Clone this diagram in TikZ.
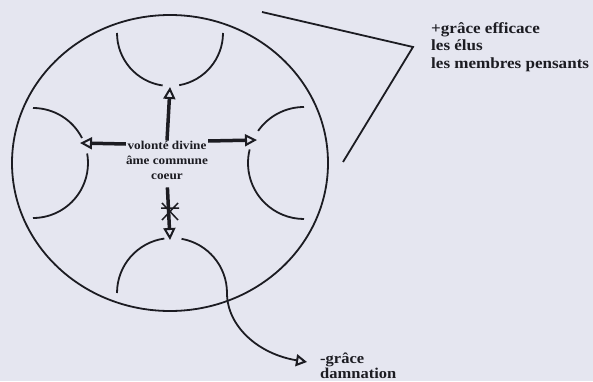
\documentclass[tikz,border=0pt]{standalone}
\usepackage{fontspec}
\setmainfont{Liberation Serif}
\newfontfamily\widefont[FakeStretch=1.1]{Liberation Serif}
\usetikzlibrary{arrows.meta,positioning}
\definecolor{paper}{RGB}{229,230,240}
\definecolor{ink}{RGB}{28,28,34}

\begin{document}
\begin{tikzpicture}[x=1pt, y=1pt,
    every node/.style={text=ink, inner sep=0pt},
    label small/.style={font=\widefont\bfseries\fontsize{12}{15}\selectfont},
    label big/.style={font=\widefont\bfseries\fontsize{15.5}{17.5}\selectfont},
    rim/.style={draw=ink, line width=1.8pt},
    cup/.style={draw=ink, line width=1.8pt},
    push/.style={draw=ink, line width=3.5pt,
        -{Triangle[open, length=12pt, width=12pt, line width=2pt]}}]
  % Paper
  \fill[paper] (0,0) rectangle (593,381);
  \useasboundingbox (0,0) rectangle (593,381);
  \clip (0,0) rectangle (593,381);

  % Big circle
  \draw[rim] (170,218) ellipse [x radius=158, y radius=148];

  % Centre
  \node[label small, align=center] (core) at (167,221) {volonté divine\\âme commune\\coeur};

  % Members (inner half circles, open where the arrows come in)
  \draw[cup] (117,348) arc[start angle=180, end angle=262, radius=53];
  \draw[cup] (170,348) ++(280:53) arc[start angle=280, end angle=360, radius=53];
  \draw[cup] (33,163) arc[start angle=-90, end angle=10, radius=55];
  \draw[cup] (33,218) ++(27:55) arc[start angle=27, end angle=90, radius=55];
  \draw[cup] (304,274) arc[start angle=90, end angle=145, radius=56];
  \draw[cup] (304,218) ++(166:56) arc[start angle=166, end angle=270, radius=56];
  \draw[cup] (117,88) arc[start angle=180, end angle=98, radius=55];

  % Arrow tips
  \coordinate (toptip) at (170,294);
  \coordinate (lefttip) at (80,238);
  \coordinate (righttip) at (257,241);
  \coordinate (downtip) at (170,141);
  \coordinate (gracetip) at (307,19);

  % Arrows
  \draw[push] (core.north) -- (toptip);
  \draw[push] ([yshift=16pt]core.west) -- (lefttip);
  \draw[push] ([yshift=19pt]core.east) -- (righttip);
  \draw[push, shorten <=8pt] (core.south) -- (downtip);
  \draw[ink, line width=1.5pt] (162,178) -- (178,161) (162,161) -- (178,178) (161,173) -- (179,173);

  % Lost member
  \draw[cup, -{Triangle[open, length=11pt, width=12pt, line width=2pt]}]
    (172,88) ++(80:55) arc[start angle=80, end angle=0, radius=55]
    .. controls (227,55) and (258,27) .. (gracetip);
  \node[label big, anchor=north west, align=left, font=\widefont\bfseries\fontsize{15}{15}\selectfont] (damn) at (320,28) {-grâce\\damnation};

  % Elect
  \draw[rim] (262,369) -- (413,334) -- (343,219);
  \node[label big, anchor=north west, align=left] (elus) at (431,359) {+grâce efficace\\les élus\\les membres pensants};
\end{tikzpicture}
\end{document}
